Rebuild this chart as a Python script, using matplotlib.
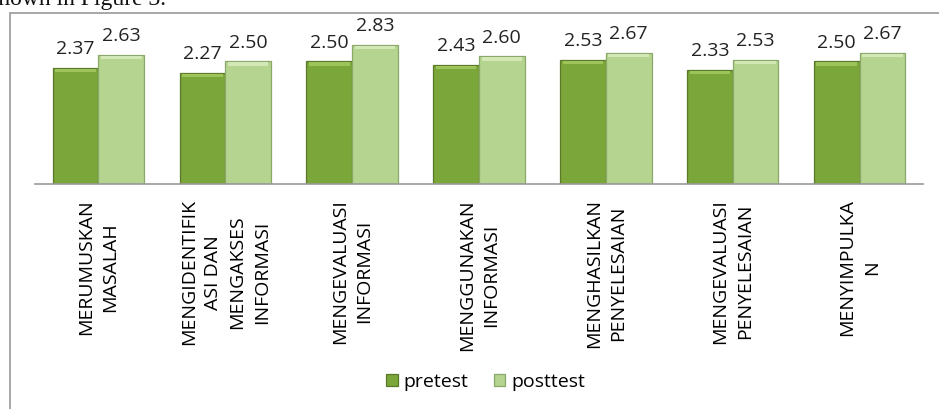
# grafik pretest vs posttest per indikator
import numpy as np
import matplotlib.pyplot as plt
from matplotlib.patches import Rectangle

categories = ['MERUMUSKAN\nMASALAH', 'MENGIDENTIFIK\nASI DAN\nMENGAKSES\nINFORMASI',
              'MENGEVALUASI\nINFORMASI', 'MENGGUNAKAN\nINFORMASI',
              'MENGHASILKAN\nPENYELESAIAN', 'MENGEVALUASI\nPENYELESAIAN', 'MENYIMPULKA\nN']
pretest = [2.37, 2.27, 2.50, 2.43, 2.53, 2.33, 2.50]
posttest = [2.63, 2.50, 2.83, 2.60, 2.67, 2.53, 2.67]

plt.rcParams['font.family'] = ['Open Sans', 'DejaVu Sans']

fig = plt.figure(figsize=(9.39, 4.09), dpi=100)
W, H = 939, 409
ax = fig.add_axes([35 / W, 1 - 184 / H, (923 - 35) / W, (184 - 22) / H])

x = np.arange(len(categories))
w = 0.36
b1 = ax.bar(x - w / 2, pretest, w, color='#7ba639', edgecolor='#5a7a2a', linewidth=0.9, label='pretest')
b2 = ax.bar(x + w / 2, posttest, w, color='#b5d48f', edgecolor='#8aa86a', linewidth=0.9, label='posttest')
# bevel strip di atas batang
for bars, c in ((b1, '#9cc45a'), (b2, '#d3e8b6')):
    for r in bars:
        ax.add_patch(Rectangle((r.get_x() + 0.02, r.get_height() - 0.09), r.get_width() - 0.04, 0.07,
                               color=c, lw=0))

for bars in (b1, b2):
    for r in bars:
        ax.annotate('%.2f' % r.get_height(), (r.get_x() + r.get_width() / 2, r.get_height()),
                    xytext=(0, 7), textcoords='offset points', ha='center', va='bottom',
                    fontsize=14, color='#222222')

ax.set_xlim(-0.5, len(categories) - 0.5)
ax.set_ylim(0, 3.3)
ax.set_yticks([])
ax.set_xticks(x)
ax.set_xticklabels(categories, rotation=90, ha='center', va='top', multialignment='center',
                   fontsize=14, linespacing=1.45)
ax.tick_params(axis='x', length=0, pad=11)
for s in ('left', 'right', 'top'):
    ax.spines[s].set_visible(False)
ax.spines['bottom'].set_color('#999999')
ax.spines['bottom'].set_linewidth(1.2)

fig.legend(handles=[b1, b2], labels=['pretest', 'posttest'], loc='center', bbox_to_anchor=(0.517, 1 - 382 / H),
           ncol=2, frameon=False, fontsize=14, handlelength=0.6, handleheight=0.6,
           handletextpad=0.3, columnspacing=1.3)

# bingkai gambar
fig.patches.append(Rectangle((10 / W, -0.1), 1.0, 1 - 13 / H + 0.1, transform=fig.transFigure,
                             fill=False, edgecolor='#a0a0a0', linewidth=1.3))
fig.text(-0.012, 1.0, 'shown in Figure 3.', family=['Liberation Serif'], fontsize=17,
         ha='left', va='center', color='#111111')

fig.savefig('out.png', dpi=100)
